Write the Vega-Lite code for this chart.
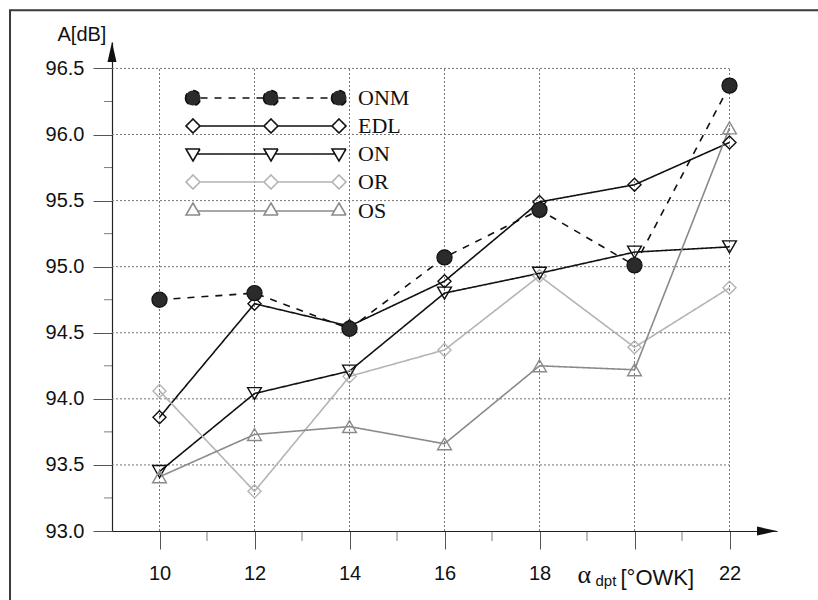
{
  "$schema": "https://vega.github.io/schema/vega-lite/v6.json",
  "width": 665,
  "height": 489,
  "autosize": {"type": "none"},
  "padding": {"left": 112, "top": 42, "right": 41, "bottom": 69},
  "background": "white",
  "config": {"view": {"stroke": null}, "font": "Liberation Sans"},
  "datasets": {
    "series": [
      {"s": "ONM", "x": 10, "y": 94.75}, {"s": "ONM", "x": 12, "y": 94.80}, {"s": "ONM", "x": 14, "y": 94.53}, {"s": "ONM", "x": 16, "y": 95.07}, {"s": "ONM", "x": 18, "y": 95.43}, {"s": "ONM", "x": 20, "y": 95.01}, {"s": "ONM", "x": 22, "y": 96.37},
      {"s": "EDL", "x": 10, "y": 93.86}, {"s": "EDL", "x": 12, "y": 94.72}, {"s": "EDL", "x": 14, "y": 94.55}, {"s": "EDL", "x": 16, "y": 94.89}, {"s": "EDL", "x": 18, "y": 95.49}, {"s": "EDL", "x": 20, "y": 95.62}, {"s": "EDL", "x": 22, "y": 95.94},
      {"s": "ON", "x": 10, "y": 93.45}, {"s": "ON", "x": 12, "y": 94.04}, {"s": "ON", "x": 14, "y": 94.21}, {"s": "ON", "x": 16, "y": 94.80}, {"s": "ON", "x": 18, "y": 94.95}, {"s": "ON", "x": 20, "y": 95.11}, {"s": "ON", "x": 22, "y": 95.15},
      {"s": "OR", "x": 10, "y": 94.06}, {"s": "OR", "x": 12, "y": 93.30}, {"s": "OR", "x": 14, "y": 94.17}, {"s": "OR", "x": 16, "y": 94.37}, {"s": "OR", "x": 18, "y": 94.93}, {"s": "OR", "x": 20, "y": 94.39}, {"s": "OR", "x": 22, "y": 94.84},
      {"s": "OS", "x": 10, "y": 93.41}, {"s": "OS", "x": 12, "y": 93.73}, {"s": "OS", "x": 14, "y": 93.79}, {"s": "OS", "x": 16, "y": 93.66}, {"s": "OS", "x": 18, "y": 94.25}, {"s": "OS", "x": 20, "y": 94.22}, {"s": "OS", "x": 22, "y": 96.05}
    ],
    "vgrid": [{"x": 10}, {"x": 12}, {"x": 14}, {"x": 16}, {"x": 18}, {"x": 20}, {"x": 22}],
    "hgrid": [{"y": 93.5}, {"y": 94.0}, {"y": 94.5}, {"y": 95.0}, {"y": 95.5}, {"y": 96.0}, {"y": 96.5}],
    "xminor": [{"x": 11}, {"x": 13}, {"x": 15}, {"x": 17}, {"x": 19}, {"x": 21}],
    "yminor": [{"y": 93.25}, {"y": 93.75}, {"y": 94.25}, {"y": 94.75}, {"y": 95.25}, {"y": 95.75}, {"y": 96.25}]
  },
  "layer": [
    {
      "data": {"values": [{}]},
      "mark": {"type": "rect", "fill": "transparent", "stroke": "#3a3a3a", "strokeWidth": 2, "clip": false},
      "encoding": {
        "x": {"datum": 6.853, "type": "quantitative", "scale": {"domain": [9, 23], "nice": false, "zero": false}},
        "x2": {"datum": 25},
        "y": {"datum": 96.94, "type": "quantitative", "scale": {"domain": [93, 96.7], "nice": false, "zero": false}},
        "y2": {"datum": 92.0}
      }
    },
    {
      "data": {"name": "hgrid"},
      "mark": {"type": "rule", "stroke": "#777777", "strokeWidth": 1, "strokeDash": [2, 2]},
      "encoding": {
        "y": {"field": "y", "type": "quantitative", "scale": {"domain": [93, 96.7], "nice": false, "zero": false}},
        "x": {"datum": 9, "type": "quantitative", "scale": {"domain": [9, 23], "nice": false, "zero": false}},
        "x2": {"datum": 22}
      }
    },
    {
      "data": {"name": "vgrid"},
      "mark": {"type": "rule", "stroke": "#777777", "strokeWidth": 1, "strokeDash": [2, 2]},
      "encoding": {
        "x": {"field": "x", "type": "quantitative", "scale": {"domain": [9, 23], "nice": false, "zero": false}},
        "y": {"datum": 93, "type": "quantitative", "scale": {"domain": [93, 96.7], "nice": false, "zero": false}},
        "y2": {"datum": 96.5}
      }
    },
    {
      "data": {"name": "xminor"},
      "mark": {"type": "tick", "orient": "vertical", "size": 10, "thickness": 1, "yOffset": 5, "color": "#444444"},
      "encoding": {
        "x": {"field": "x", "type": "quantitative", "scale": {"domain": [9, 23], "nice": false, "zero": false}},
        "y": {"datum": 93, "type": "quantitative", "scale": {"domain": [93, 96.7], "nice": false, "zero": false}}
      }
    },
    {
      "data": {"name": "yminor"},
      "mark": {"type": "tick", "orient": "horizontal", "size": 8, "thickness": 1, "xOffset": -4, "color": "#444444"},
      "encoding": {
        "y": {"field": "y", "type": "quantitative", "scale": {"domain": [93, 96.7], "nice": false, "zero": false}},
        "x": {"datum": 9, "type": "quantitative", "scale": {"domain": [9, 23], "nice": false, "zero": false}}
      }
    },
    {
      "data": {"name": "series"},
      "encoding": {
        "x": {
          "field": "x", "type": "quantitative",
          "scale": {"domain": [9, 23], "nice": false, "zero": false},
          "axis": {
            "values": [10, 12, 14, 16, 18, 20, 22],
            "labelExpr": "datum.value === 20 ? '' : datum.label",
            "format": "d",
            "title": null,
            "grid": false,
            "tickSize": 18,
            "tickColor": "#555555",
            "domainColor": "#222222",
            "domainWidth": 1.2,
            "labelFont": "Liberation Sans",
            "labelFontSize": 20,
            "labelColor": "#111111",
            "labelPadding": 14,
            "labelFlush": false,
            "labelOverlap": false
          }
        },
        "y": {
          "field": "y", "type": "quantitative",
          "scale": {"domain": [93, 96.7], "nice": false, "zero": false},
          "axis": {
            "values": [93, 93.5, 94, 94.5, 95, 95.5, 96, 96.5],
            "format": ".1f",
            "grid": false,
            "tickSize": 19,
            "tickColor": "#555555",
            "domainColor": "#222222",
            "domainWidth": 1.2,
            "labelFont": "Liberation Sans",
            "labelFontSize": 20,
            "labelColor": "#111111",
            "labelPadding": 9,
            "labelFlush": false,
            "labelOverlap": false,
            "title": "A[dB]",
            "titleAngle": 0,
            "titleAlign": "left",
            "titleBaseline": "alphabetic",
            "titleX": -55,
            "titleY": -2,
            "titleFont": "Liberation Sans",
            "titleFontSize": 20,
            "titleFontWeight": "normal",
            "titleColor": "#111111"
          }
        },
        "color": {
          "field": "s", "type": "nominal",
          "scale": {"domain": ["ONM", "EDL", "ON", "OR", "OS"], "range": ["#111111", "#111111", "#111111", "#b4b4b4", "#8a8a8a"]},
          "legend": {"title": null, "orient": "none", "legendX": 73, "legendY": 45, "padding": 0, "symbolSize": 4, "symbolStrokeWidth": 1.6, "symbolOffset": 70, "labelOffset": 81, "labelFont": "Liberation Serif", "labelFontSize": 22, "labelColor": "#111111", "rowPadding": 6, "symbolOpacity": 1}
        }
      },
      "layer": [
        {
          "mark": {"type": "line", "strokeWidth": 1.6},
          "encoding": {
            "strokeDash": {
              "field": "s", "type": "nominal",
              "scale": {"domain": ["ONM", "EDL", "ON", "OR", "OS"], "range": [[7, 7], [1, 0], [1, 0], [1, 0], [1, 0]]},
              "legend": {"title": null, "orient": "none", "legendX": 73, "legendY": 45, "padding": 0, "symbolSize": 4, "symbolStrokeWidth": 1.6, "symbolOffset": 70, "labelOffset": 81, "labelFont": "Liberation Serif", "labelFontSize": 22, "labelColor": "#111111", "rowPadding": 6, "symbolOpacity": 1}
            }
          }
        },
        {
          "transform": [{"filter": "datum.s === 'EDL' || datum.s === 'OR'"}],
          "mark": {"type": "point", "shape": "diamond", "size": 170, "filled": false, "strokeWidth": 1.4, "opacity": 1}
        },
        {
          "transform": [{"filter": "datum.s === 'ON'"}],
          "mark": {"type": "point", "shape": "triangle-down", "size": 190, "filled": false, "strokeWidth": 1.4, "opacity": 1}
        },
        {
          "transform": [{"filter": "datum.s === 'OS'"}],
          "mark": {"type": "point", "shape": "triangle-up", "size": 190, "filled": false, "strokeWidth": 1.4, "opacity": 1}
        },
        {
          "transform": [{"filter": "datum.s === 'ONM'"}],
          "mark": {"type": "point", "shape": "circle", "size": 230, "filled": false, "fill": "#2b2b2b", "strokeWidth": 1.2, "opacity": 1}
        },
        {
          "mark": {"type": "point", "filled": false, "opacity": 0},
          "encoding": {
            "shape": {
              "field": "s", "type": "nominal",
              "scale": {
                "domain": ["ONM", "EDL", "ON", "OR", "OS"],
                "range": [
                  "M -80.5 0 a 7.5 7.5 0 1 0 15 0 a 7.5 7.5 0 1 0 -15 0 Z M -2.5 0 a 7.5 7.5 0 1 0 15 0 a 7.5 7.5 0 1 0 -15 0 Z M 65.5 0 a 7.5 7.5 0 1 0 15 0 a 7.5 7.5 0 1 0 -15 0 Z M -65.5 0 L -2.5 0 M 12.5 0 L 65.5 0",
                  "M -80 0 L -73 -7 L -66 0 L -73 7 Z M -2 0 L 5 -7 L 12 0 L 5 7 Z M 66 0 L 73 -7 L 80 0 L 73 7 Z M -66 0 L -2 0 M 12 0 L 66 0",
                  "M -80 -5 L -66 -5 L -73 7 Z M -2 -5 L 12 -5 L 5 7 Z M 66 -5 L 80 -5 L 73 7 Z M -68.9 0 L 0.9 0 M 9.1 0 L 68.9 0",
                  "M -80 0 L -73 -7 L -66 0 L -73 7 Z M -2 0 L 5 -7 L 12 0 L 5 7 Z M 66 0 L 73 -7 L 80 0 L 73 7 Z M -66 0 L -2 0 M 12 0 L 66 0",
                  "M -80 4 L -66 4 L -73 -8 Z M -2 4 L 12 4 L 5 -8 Z M 66 4 L 80 4 L 73 -8 Z M -68.3 0 L 0.3 0 M 9.7 0 L 68.3 0"
                ]
              },
              "legend": {"title": null, "orient": "none", "legendX": 73, "legendY": 45, "padding": 0, "symbolSize": 4, "symbolStrokeWidth": 1.6, "symbolOffset": 70, "labelOffset": 81, "labelFont": "Liberation Serif", "labelFontSize": 22, "labelColor": "#111111", "rowPadding": 6, "symbolOpacity": 1}
            },
            "fill": {
              "field": "s", "type": "nominal",
              "scale": {"domain": ["ONM", "EDL", "ON", "OR", "OS"], "range": ["#2b2b2b", "transparent", "transparent", "transparent", "transparent"]},
              "legend": {"title": null, "orient": "none", "legendX": 73, "legendY": 45, "padding": 0, "symbolSize": 4, "symbolStrokeWidth": 1.6, "symbolOffset": 70, "labelOffset": 81, "labelFont": "Liberation Serif", "labelFontSize": 22, "labelColor": "#111111", "rowPadding": 6, "symbolOpacity": 1}
            }
          }
        }
      ]
    },
    {
      "data": {"values": [{}]},
      "mark": {"type": "point", "shape": "M 0 0 L -20 -4.5 L -20 4.5 Z", "size": 4, "filled": true, "color": "#111111", "opacity": 1, "clip": false},
      "encoding": {
        "x": {"datum": 23, "type": "quantitative", "scale": {"domain": [9, 23], "nice": false, "zero": false}},
        "y": {"datum": 93, "type": "quantitative", "scale": {"domain": [93, 96.7], "nice": false, "zero": false}}
      }
    },
    {
      "data": {"values": [{}]},
      "mark": {"type": "point", "shape": "M 0 0 L -4.5 20 L 4.5 20 Z", "size": 4, "filled": true, "color": "#111111", "opacity": 1, "clip": false},
      "encoding": {
        "x": {"datum": 9, "type": "quantitative", "scale": {"domain": [9, 23], "nice": false, "zero": false}},
        "y": {"datum": 96.7, "type": "quantitative", "scale": {"domain": [93, 96.7], "nice": false, "zero": false}}
      }
    },
    {
      "data": {"values": [{}]},
      "mark": {"type": "text", "text": "α", "font": "Liberation Serif", "fontSize": 26, "align": "left", "baseline": "alphabetic", "dx": -57, "dy": 52, "color": "#111111"},
      "encoding": {
        "x": {"datum": 20, "type": "quantitative", "scale": {"domain": [9, 23], "nice": false, "zero": false}},
        "y": {"datum": 93, "type": "quantitative", "scale": {"domain": [93, 96.7], "nice": false, "zero": false}}
      }
    },
    {
      "data": {"values": [{}]},
      "mark": {"type": "text", "text": "dpt", "font": "Liberation Sans", "fontSize": 15, "align": "left", "baseline": "alphabetic", "dx": -39, "dy": 55, "color": "#111111"},
      "encoding": {
        "x": {"datum": 20, "type": "quantitative", "scale": {"domain": [9, 23], "nice": false, "zero": false}},
        "y": {"datum": 93, "type": "quantitative", "scale": {"domain": [93, 96.7], "nice": false, "zero": false}}
      }
    },
    {
      "data": {"values": [{}]},
      "mark": {"type": "text", "text": "[°OWK]", "font": "Liberation Sans", "fontSize": 22, "align": "left", "baseline": "alphabetic", "dx": -14, "dy": 54, "color": "#111111"},
      "encoding": {
        "x": {"datum": 20, "type": "quantitative", "scale": {"domain": [9, 23], "nice": false, "zero": false}},
        "y": {"datum": 93, "type": "quantitative", "scale": {"domain": [93, 96.7], "nice": false, "zero": false}}
      }
    }
  ]
}
